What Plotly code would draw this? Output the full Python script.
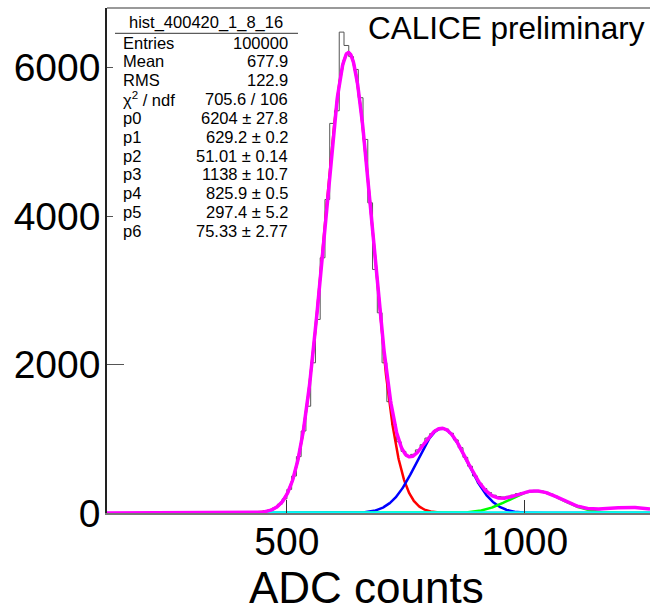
import numpy as np
import plotly.graph_objects as go

# ---------------- data ----------------
bin_low = 120          # lower edge of first bin (ADC counts)
bin_width = 10         # ADC counts per bin
counts = [
    0, 0, 0, 0, 0, 0, 0, 0, 0, 0, 0, 0, 0, 0, 0, 0, 0, 0,
    1, 0, 1, 2, 1, 3, 2, 4, 5, 6,
    8, 9, 12, 16, 22, 30, 44, 70, 118, 190,
    318, 498, 760, 1105, 1439, 2024, 2608, 3439, 4225, 5250,
    5420, 6480, 6300, 6150, 5977, 5596, 5034, 4180, 3282, 2698,
    2024, 1500, 1190, 960, 830, 760, 790, 850, 920, 1010,
    1070, 1120, 1135, 1130, 1075, 985, 880, 750, 630, 500,
    400, 330, 275, 240, 222, 215, 225, 240, 262, 275,
    290, 300, 296, 292, 280, 255, 226, 195, 162, 135,
    108, 90, 74, 64, 60, 57, 60, 62, 68, 72,
    73, 75, 72, 74, 66, 60, 54,
]

# fit parameters printed in the stats box
fit_params = [6204, 629.2, 51.01, 1138, 825.9, 297.4, 75.33]
# widths of the four peaks
peak_sigmas = [51.01, 53.0, 55.0, 54.0]
fit_range_low = 430

x_range = [122, 1263]
y_range = [0, 6805]
y_ticks = [0, 2000, 4000, 6000]
x_ticks = [500, 1000]

hist_name = "hist_400420_1_8_16"
stats_labels = ["Entries", "Mean", "RMS", "χ<sup>2</sup> / ndf",
                "p0", "p1", "p2", "p3", "p4", "p5", "p6"]
stats_values = ["100000", "677.9", "122.9", "705.6 / 106",
                "6204 ± 27.8", "629.2 ± 0.2", "51.01 ± 0.14",
                "1138 ± 10.7", "825.9 ± 0.5", "297.4 ± 5.2",
                "75.33 ± 2.77"]
label_text = "CALICE preliminary"
x_title = "ADC counts"

# ---------------- derived ----------------
A0, mu0, s0, A1, mu1, A2, A3 = fit_params
spacing = mu1 - mu0
amps = [A0, A1, A2, A3]
means = [mu0 + k * spacing for k in range(4)]


def gaus(x, a, m, s):
    return a * np.exp(-0.5 * ((x - m) / s) ** 2)


edges = [bin_low + i * bin_width for i in range(len(counts) + 1)]
hx = edges
hy = counts + [counts[-1]]

xf_all = np.linspace(x_range[0], x_range[1], 1200)
xf = np.linspace(fit_range_low, x_range[1], 1000)
comps = [gaus(xf, amps[k], means[k], peak_sigmas[k]) for k in range(4)]
total = sum(gaus(xf_all, amps[k], means[k], peak_sigmas[k]) for k in range(4))

FONT = "Liberation Sans, Arial, Helvetica, sans-serif"

fig = go.Figure()
fig.add_trace(go.Scatter(x=hx, y=hy, mode="lines", line_shape="hv",
                         line=dict(color="#555555", width=1), hoverinfo="skip"))
fig.add_trace(go.Scatter(x=xf, y=comps[0], mode="lines",
                         line=dict(color="#ff0000", width=2.5)))
fig.add_trace(go.Scatter(x=xf, y=comps[1], mode="lines",
                         line=dict(color="#0000ff", width=2.5)))
fig.add_trace(go.Scatter(x=xf, y=comps[2], mode="lines",
                         line=dict(color="#00ff00", width=2.5)))
fig.add_trace(go.Scatter(x=xf, y=np.zeros_like(xf), mode="lines",
                         line=dict(color="#00ffff", width=3.5)))
fig.add_trace(go.Scatter(x=xf_all, y=total, mode="lines",
                         line=dict(color="#ff00ff", width=3.5)))

# geometry of plot area in pixels
L, R, T, B = 107, 650, 8, 513
W, H = 650, 611


def px(xp):
    return (xp - L) / (R - L)


def py(yp):
    return (B - yp) / (B - T)


SF = 16.5
ann = []
ann.append(dict(x=px(647), y=py(28), xref="paper", yref="paper",
                text=label_text, showarrow=False, xanchor="right",
                yanchor="middle", font=dict(size=31.5, color="black", family=FONT)))
ann.append(dict(x=px(206), y=py(22.5), xref="paper", yref="paper",
                text=hist_name, showarrow=False, xanchor="center",
                yanchor="middle", font=dict(size=SF, color="black", family=FONT)))
for i, (lab, val) in enumerate(zip(stats_labels, stats_values)):
    yy = 42.7 + i * 18.8
    ann.append(dict(x=px(121), y=py(yy), xref="paper", yref="paper",
                    text=lab, showarrow=False, xanchor="left", yanchor="middle",
                    font=dict(size=SF, color="black", family=FONT)))
    ann.append(dict(x=px(290), y=py(yy), xref="paper", yref="paper",
                    text=val, showarrow=False, xanchor="right", yanchor="middle",
                    font=dict(size=SF, color="black", family=FONT)))
ann.append(dict(x=px(366), y=py(587), xref="paper", yref="paper",
                text=x_title, showarrow=False, xanchor="center", yanchor="middle",
                font=dict(size=44, color="black", family=FONT)))

shapes = [
    # stats box (white, borderless) covering the axis ticks beneath it
    dict(type="rect", xref="paper", yref="paper", x0=px(113), x1=px(306),
         y0=py(246), y1=py(9), fillcolor="white", line=dict(width=0),
         layer="above"),
    dict(type="line", xref="paper", yref="paper", x0=0, x1=1, y0=1, y1=1,
         line=dict(color="#777777", width=1.5), layer="above"),
    dict(type="line", xref="paper", yref="paper", x0=px(115), x1=px(298),
         y0=py(33.3), y1=py(33.3), line=dict(color="#333333", width=1),
         layer="above"),
]

fig.update_layout(
    width=W, height=H,
    margin=dict(l=L, r=W - R, t=T, b=H - B),
    paper_bgcolor="white", plot_bgcolor="white",
    showlegend=False,
    annotations=ann, shapes=shapes,
    font=dict(family=FONT, color="black"),
    xaxis=dict(range=x_range, tickvals=x_ticks, ticktext=[str(v) for v in x_ticks],
               ticks="inside", ticklen=13, tickcolor="#333333", tickwidth=1,
               showline=True, linecolor="#777777", linewidth=1.5,
               showgrid=False, zeroline=False, ticklabelstandoff=-7,
               tickfont=dict(size=39, family=FONT, color="black")),
    yaxis=dict(range=y_range, tickvals=y_ticks, ticktext=[str(v) for v in y_ticks],
               ticks="inside", ticklen=17, tickcolor="#555555", tickwidth=1,
               showline=True, linecolor="#222222", linewidth=1.5,
               showgrid=False, zeroline=False, ticklabelstandoff=-3,
               tickfont=dict(size=39, family=FONT, color="black")),
)

fig.write_html("out.html", config={"displayModeBar": False})
